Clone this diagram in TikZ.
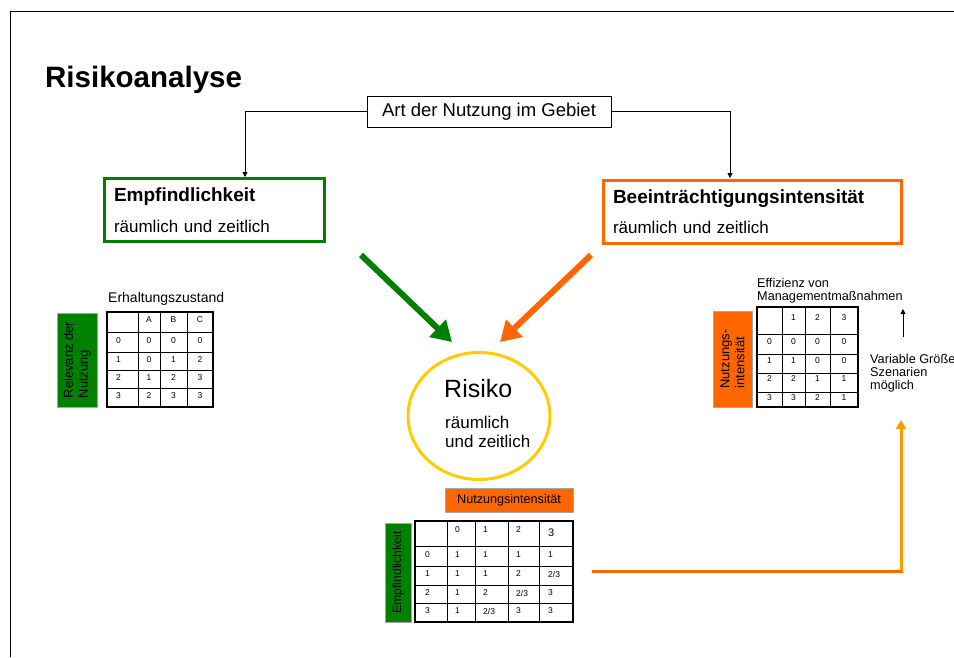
\documentclass[tikz,border=0pt]{standalone}
\usepackage{fontspec}
\setmainfont{Liberation Sans}
\usetikzlibrary{shapes.geometric, arrows.meta, positioning, calc}
\definecolor{empfgreen}{RGB}{0, 128, 0}
\definecolor{intensorange}{RGB}{255, 102, 0}
\definecolor{risikoyellow}{RGB}{255, 204, 0}
\definecolor{szenorange}{RGB}{255, 153, 0}

\begin{document}
\begin{tikzpicture}[x=1pt, y=-1pt,
    catbox/.style={rectangle, line width=3pt, minimum height=63pt, inner xsep=10pt,
                align=left, font=\fontsize{17}{30.5}\selectfont},
    sidebar/.style={rectangle, draw=black!35, line width=0.6pt, inner sep=0pt,
                rotate=90, align=left, font=\fontsize{13}{15}\selectfont},
    cell/.style={inner sep=0pt, font=\fontsize{8.5}{10}\selectfont},
    gridline/.style={line width=0.8pt},
    tableframe/.style={line width=2.5pt},
    link/.style={-{Triangle[length=5pt,width=5pt]}, line width=0.8pt},
    bigarrow/.style={-{Triangle[length=20pt,width=23pt]}, line width=6pt},
    note/.style={inner sep=0pt, align=left, font=\fontsize{12.7}{13.3}\selectfont}
]
    \useasboundingbox (0,0) rectangle (954,657);
    % Frame
    \draw[line width=1pt] (10,657) -- (10,11) -- (954,11);

    % Title and top boxes
    \node[anchor=base west, inner sep=0pt, font=\fontsize{29.5}{34}\selectfont\bfseries] (title) at (45,87) {Risikoanalyse};
    \node[rectangle, draw, line width=1pt, minimum width=244pt, minimum height=31pt,
          font=\fontsize{18.5}{22}\selectfont] (art) at (489,111.5) {Art der Nutzung im Gebiet};
    \node[catbox, draw=empfgreen, text width=200pt] (empf) at (214,210)
        {{\fontsize{19}{30.5}\selectfont\bfseries Empfindlichkeit}\\r\"aumlich und zeitlich};
    \node[catbox, draw=intensorange, text width=278pt] (beein) at (752,211.5)
        {{\fontsize{19}{30.5}\selectfont\bfseries Beeintr\"achtigungsintensit\"at}\\r\"aumlich und zeitlich};

    % Connectors from the top box
    \coordinate (empfin) at (245,177);
    \coordinate (beeinin) at (730,178);
    \draw[link] (art.west) -| (empfin);
    \draw[link] (art.east) -| (beeinin);

    % Risiko
    \node[ellipse, draw=risikoyellow, line width=3pt, minimum width=142pt, minimum height=127pt] (risiko) at (479,416) {};
    \node[anchor=base west, inner sep=0pt, font=\fontsize{25}{30}\selectfont] (risikotitle) at (444,397) {Risiko};
    \node[anchor=north west, inner sep=0pt, align=left, font=\fontsize{17}{19}\selectfont] (risikotext) at (445,415.5)
        {r\"aumlich\\und zeitlich};

    % Big arrows
    \coordinate (gstart) at (361,255);
    \coordinate (gtip) at (452,342);
    \coordinate (ostart) at (591,255);
    \coordinate (otip) at (500,342);
    \draw[bigarrow, empfgreen] (gstart) -- (gtip);
    \draw[bigarrow, intensorange] (ostart) -- (otip);

    % Table left: Erhaltungszustand
    \node[anchor=base west, inner sep=0pt, font=\fontsize{14}{16}\selectfont] (erhlabel) at (108,302) {Erhaltungszustand};
    \node[sidebar, fill=empfgreen, minimum width=94pt, minimum height=40pt] (relevanz) at (77,360) {Relevanz der\\Nutzung};
    \foreach \x in {138,160,187} \draw[gridline] (\x,312) -- (\x,407);
    \foreach \y in {332,352,370,388} \draw[gridline] (107,\y) -- (213,\y);
    \draw[tableframe] (107,312) rectangle (213,407);
    \foreach \y/\a/\b/\c/\d [count=\r] in {320//A/B/C, 341/0/0/0/0, 360/1/0/1/2, 378/2/1/2/3, 396/3/2/3/3}{
        \node[cell, anchor=west] (erh-\r-1) at (116,\y) {\a};
        \node[cell] (erh-\r-2) at (149,\y) {\b};
        \node[cell] (erh-\r-3) at (173.5,\y) {\c};
        \node[cell] (erh-\r-4) at (200,\y) {\d};
    }

    % Table right: Effizienz
    \node[note, anchor=north west] (effizienz) at (757,277.7) {Effizienz von\\Managementma\ss nahmen};
    \node[sidebar, fill=intensorange, minimum width=96pt, minimum height=39pt] (nutzint) at (732.5,359) {Nutzungs-\\intensit\"at};
    \foreach \x in {782,805,830} \draw[gridline] (\x,307) -- (\x,407);
    \foreach \y in {334,354,373,392} \draw[gridline] (757,\y) -- (858,\y);
    \draw[tableframe] (757,307) rectangle (858,407);
    \foreach \y/\a/\b/\c/\d [count=\r] in {317.5//1/2/3, 342/0/0/0/0, 361/1/1/0/0, 379/2/2/1/1, 398/3/3/2/1}{
        \node[cell] (eff-\r-1) at (769.5,\y) {\a};
        \node[cell] (eff-\r-2) at (793.5,\y) {\b};
        \node[cell] (eff-\r-3) at (817.5,\y) {\c};
        \node[cell] (eff-\r-4) at (844,\y) {\d};
    }
    \coordinate (varlow) at (903,337);
    \coordinate (varhigh) at (903,309);
    \draw[link] (varlow) -- (varhigh);
    \node[note, anchor=north west] (variable) at (870,353.7) {Variable Gr\"o\ss e\\Szenarien\\m\"oglich};

    % Table bottom: Risiko
    \node[rectangle, draw=black!35, line width=0.6pt, fill=intensorange, minimum width=128pt, minimum height=24pt,
          inner sep=0pt, font=\fontsize{12.6}{15}\selectfont] (nutzhead) at (509,500) {Nutzungsintensit\"at};
    \node[sidebar, fill=empfgreen, minimum width=99pt, minimum height=26pt, font=\fontsize{12.2}{14}\selectfont] (empfside) at (398,572.5) {Empfindlichkeit};
    \foreach \x in {447,475,508,539} \draw[gridline] (\x,521) -- (\x,622);
    \foreach \y in {546,566,585,603} \draw[gridline] (415,\y) -- (573,\y);
    \draw[tableframe] (415,521) rectangle (573,622);
    \foreach \y/\a/\b/\c/\d/\e [count=\r] in {530//0/1/2/, 554.5/0/1/1/1/1, 574/1/1/1/2/2\slash 3, 593/2/1/2/2\slash 3/3, 611/3/1/2\slash 3/3/3}{
        \node[cell, anchor=west] (ris-\r-1) at (425,\y) {\a};
        \node[cell, anchor=west] (ris-\r-2) at (455,\y) {\b};
        \node[cell, anchor=west] (ris-\r-3) at (483,\y) {\c};
        \node[cell, anchor=west] (ris-\r-4) at (516,\y) {\d};
        \node[cell, anchor=west] (ris-\r-5) at (548,\y) {\e};
    }
    \node[cell, anchor=west, font=\fontsize{11}{13}\selectfont] (ris-1-5) at (548,533) {3};

    % Connector to the scenarios
    \coordinate (szstart) at (592,571);
    \coordinate (szcorner) at (901,571);
    \coordinate (szend) at (901,420);
    \draw[line width=3pt, intensorange] (szstart) -- ([xshift=1.5pt]szcorner);
    \draw[line width=3pt, szenorange, -{Triangle[length=9pt,width=10pt]}] (szcorner) -- (szend);
\end{tikzpicture}
\end{document}
